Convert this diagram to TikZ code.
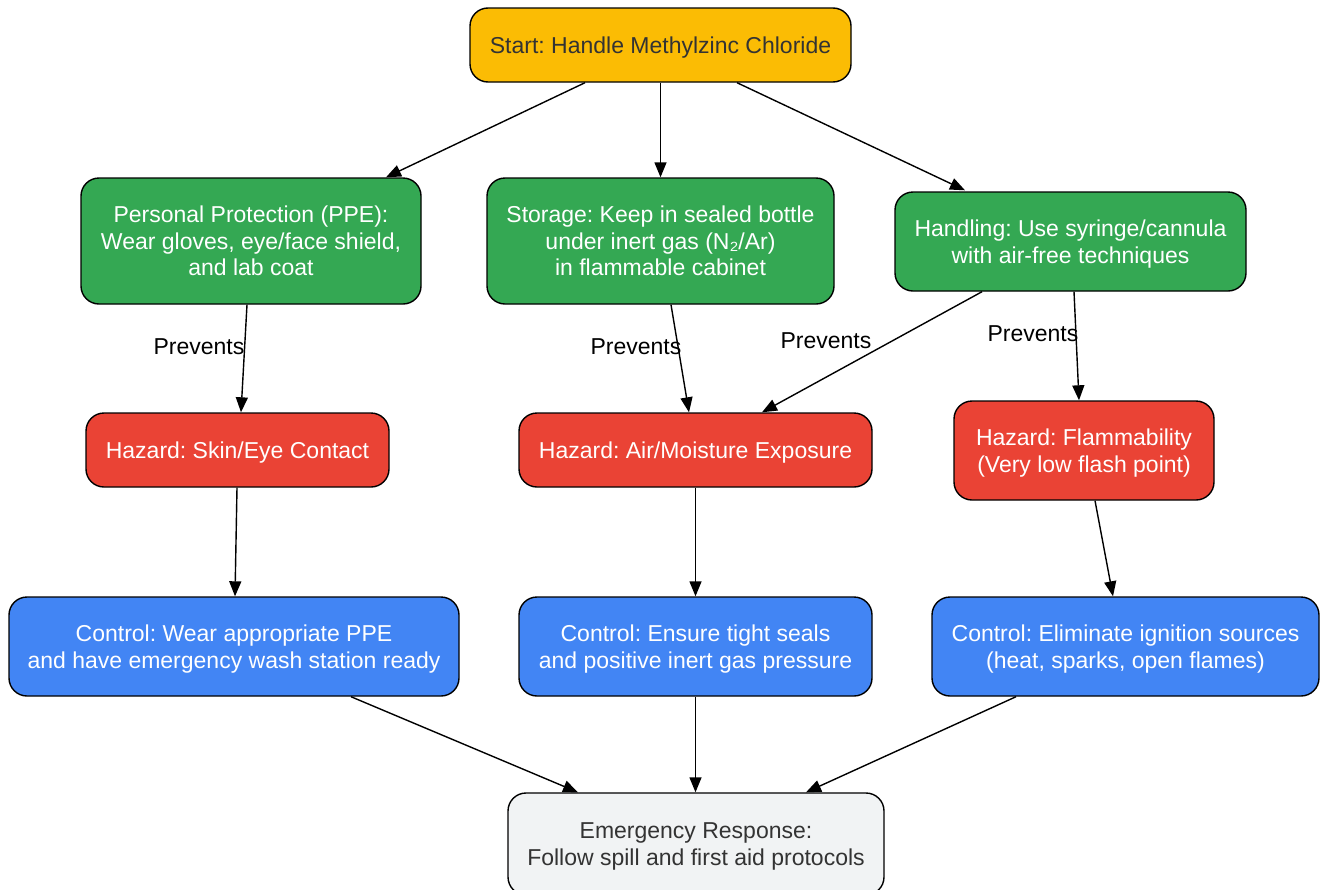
\documentclass[tikz,border=0pt]{standalone}
\usepackage{fontspec}
\setmainfont{Liberation Sans}
\frenchspacing
\usetikzlibrary{arrows.meta}
\definecolor{cyellow}{HTML}{FBBC04}
\definecolor{cgreen}{HTML}{34A853}
\definecolor{cred}{HTML}{EA4335}
\definecolor{cblue}{HTML}{4285F4}
\definecolor{cgrey}{HTML}{F1F3F4}
\definecolor{cdark}{HTML}{333333}
\tikzset{
  box/.style={draw=black, line width=1.4pt, rounded corners=18pt, inner sep=0pt, align=center,
    text depth=0pt, font=\fontsize{23}{26.5}\selectfont},
  startbox/.style={box, fill=cyellow, text=cdark},
  greenbox/.style={box, fill=cgreen, text=white},
  redbox/.style={box, fill=cred, text=white},
  bluebox/.style={box, fill=cblue, text=white},
  greybox/.style={box, fill=cgrey, text=cdark},
  conn/.style={draw=black, line width=1.4pt, -{Triangle[length=15pt,width=12pt]}},
  lbl/.style={text=black, inner sep=0pt, font=\fontsize{23}{26.5}\selectfont}
}
\begin{document}
\begin{tikzpicture}[x=1pt,y=-1pt]
\useasboundingbox (0,0) rectangle (1324,889);
\clip (0,0) rectangle (1324,889);
\node[startbox, minimum width=381pt, minimum height=74pt] (start) at (660.5,45) {Start: Handle Methylzinc Chloride};
\node[greenbox, minimum width=340pt, minimum height=126pt] (ppe) at (251,241) {Personal Protection (PPE):\\Wear gloves, eye/face shield,\\and lab coat};
\node[greenbox, minimum width=347pt, minimum height=126pt] (storage) at (660.5,241) {Storage: Keep in sealed bottle\\under inert gas (N₂/Ar)\\in flammable cabinet};
\node[greenbox, minimum width=351pt, minimum height=99pt] (handling) at (1070.5,241.5) {Handling: Use syringe/cannula\\with air-free techniques};
\node[redbox, minimum width=303pt, minimum height=74pt] (skin) at (237.5,450) {Hazard: Skin/Eye Contact};
\node[redbox, minimum width=353pt, minimum height=74pt] (air) at (695.5,450) {Hazard: Air/Moisture Exposure};
\node[redbox, minimum width=260pt, minimum height=99pt] (flam) at (1084,450.5) {Hazard: Flammability\\(Very low flash point)};
\node[bluebox, minimum width=450pt, minimum height=99pt] (c1) at (234,646.5) {Control: Wear appropriate PPE\\and have emergency wash station ready};
\node[bluebox, minimum width=353pt, minimum height=99pt] (c2) at (695.5,646.5) {Control: Ensure tight seals\\and positive inert gas pressure};
\node[bluebox, minimum width=387pt, minimum height=99pt] (c3) at (1125.5,646.5) {Control: Eliminate ignition sources\\(heat, sparks, open flames)};
\node[greybox, minimum width=376pt, minimum height=102pt] (em) at (696,844) {Emergency Response:\\Follow spill and first aid protocols};

\draw[conn] ([xshift=-75.5pt]start.south) -- ([xshift=135pt]ppe.north);
\draw[conn] (start.south) -- (storage.north);
\draw[conn] ([xshift=76.5pt]start.south) -- ([xshift=-105.5pt,yshift=1pt]handling.north);

\draw[conn] ([xshift=-4pt]ppe.south) -- ([xshift=3.5pt]skin.north);
\draw[conn] ([xshift=10.5pt]storage.south) -- ([xshift=-6.5pt]air.north);
\draw[conn] ([xshift=-88.5pt]handling.south) -- ([xshift=66.5pt]air.north);
\draw[conn] ([xshift=3.5pt]handling.south) -- ([xshift=-5pt]flam.north);

\node[lbl] (l1) at (199,347) {Prevents};
\node[lbl] (l2) at (636,347) {Prevents};
\node[lbl] (l3) at (826,341) {Prevents};
\node[lbl] (l4) at (1033,334) {Prevents};

\draw[conn] ([xshift=-0.5pt]skin.south) -- ([xshift=1pt]c1.north);
\draw[conn] (air.south) -- (c2.north);
\draw[conn] ([xshift=11pt]flam.south) -- ([xshift=-12.5pt]c3.north);

\draw[conn] ([xshift=117pt]c1.south) -- ([xshift=-118pt]em.north);
\draw[conn] (c2.south) -- ([xshift=-0.5pt]em.north);
\draw[conn] ([xshift=-109.5pt]c3.south) -- ([xshift=110pt]em.north);
\end{tikzpicture}
\end{document}
